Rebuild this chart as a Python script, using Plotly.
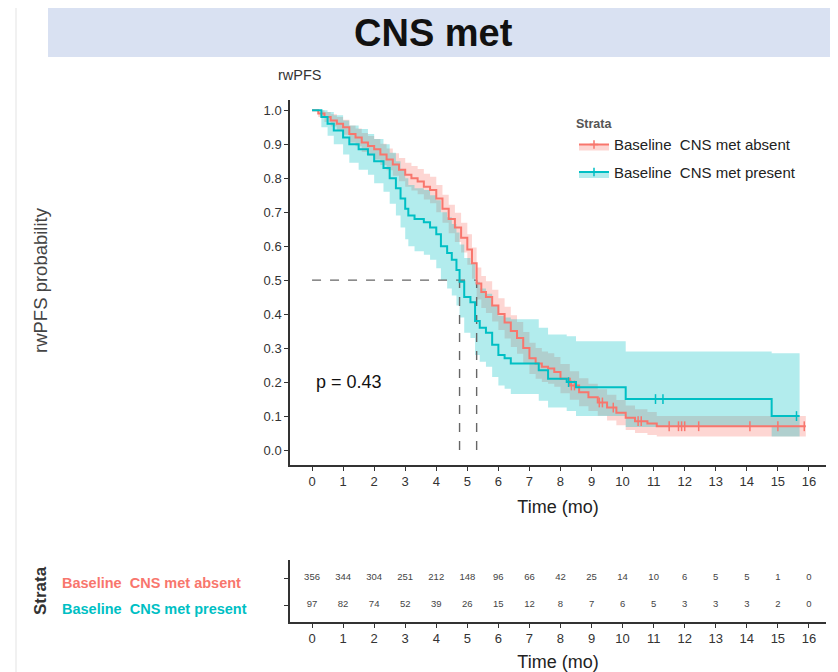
import plotly.graph_objects as go

# ---------------- data ----------------
strata = ["Baseline  CNS met absent", "Baseline  CNS met present"]
colors = ["#F8766D", "#00BFC4"]
bands = ["rgba(248,118,109,0.30)", "rgba(0,191,196,0.30)"]

red_t = [0, 0.2, 0.4, 0.6, 0.8, 1.0, 1.2, 1.4, 1.6, 1.8, 2.0, 2.2, 2.4, 2.6, 2.8, 3.0, 3.2, 3.4, 3.6, 3.8,
         4.0, 4.2, 4.4, 4.6, 4.8, 5.0, 5.15, 5.3, 5.45, 5.6, 5.8, 6.0, 6.2, 6.4, 6.6, 6.8, 7.0, 7.2, 7.4, 7.6,
         7.8, 8.0, 8.3, 8.6, 8.9, 9.2, 9.5, 9.8, 10.1, 10.4, 10.8, 11.1, 15.9]
red_s = [1.0, 0.99, 0.98, 0.97, 0.96, 0.95, 0.93, 0.92, 0.905, 0.895, 0.885, 0.87, 0.855, 0.84, 0.825, 0.81,
         0.80, 0.79, 0.775, 0.765, 0.74, 0.71, 0.68, 0.655, 0.625, 0.59, 0.55, 0.49, 0.465, 0.45, 0.425, 0.40,
         0.375, 0.35, 0.33, 0.30, 0.27, 0.255, 0.245, 0.24, 0.23, 0.21, 0.19, 0.17, 0.155, 0.14, 0.125, 0.11,
         0.095, 0.085, 0.078, 0.07, 0.07]
red_up = [1.0, 1.0, 0.995, 0.988, 0.98, 0.972, 0.955, 0.946, 0.933, 0.924, 0.915, 0.901, 0.887, 0.873, 0.859,
          0.845, 0.836, 0.827, 0.813, 0.804, 0.78, 0.751, 0.722, 0.698, 0.669, 0.635, 0.596, 0.537, 0.512, 0.497,
          0.472, 0.447, 0.422, 0.397, 0.377, 0.347, 0.316, 0.30, 0.29, 0.285, 0.274, 0.253, 0.232, 0.211, 0.195,
          0.179, 0.163, 0.147, 0.131, 0.12, 0.112, 0.10, 0.10]
red_lo = [1.0, 0.98, 0.965, 0.952, 0.94, 0.928, 0.905, 0.894, 0.877, 0.866, 0.855, 0.839, 0.823, 0.807, 0.791,
          0.775, 0.764, 0.753, 0.737, 0.726, 0.70, 0.669, 0.638, 0.612, 0.581, 0.545, 0.504, 0.443, 0.418, 0.403,
          0.378, 0.353, 0.328, 0.303, 0.283, 0.253, 0.224, 0.21, 0.20, 0.195, 0.186, 0.167, 0.148, 0.129, 0.115,
          0.101, 0.087, 0.073, 0.059, 0.05, 0.044, 0.04, 0.04]

blue_t = [0, 0.3, 0.5, 0.7, 1.0, 1.2, 1.5, 1.8, 2.0, 2.3, 2.5, 2.7, 2.85, 3.0, 3.1, 3.3, 3.6, 3.8, 4.0, 4.15,
          4.35, 4.5, 4.65, 4.75, 4.9, 5.1, 5.25, 5.4, 5.6, 5.8, 6.0, 6.2, 6.4, 7.3, 7.6, 8.2, 8.5, 10.1, 14.8, 15.7]
blue_s = [1.0, 0.98, 0.96, 0.94, 0.92, 0.90, 0.885, 0.87, 0.85, 0.83, 0.80, 0.77, 0.74, 0.71, 0.69, 0.68, 0.67,
          0.655, 0.635, 0.60, 0.58, 0.56, 0.53, 0.495, 0.45, 0.435, 0.38, 0.36, 0.345, 0.31, 0.28, 0.27, 0.255,
          0.235, 0.21, 0.20, 0.185, 0.15, 0.10, 0.10]
blue_up = [1.0, 1.0, 0.995, 0.985, 0.97, 0.955, 0.945, 0.93, 0.915, 0.90, 0.875, 0.85, 0.825, 0.80, 0.78, 0.77,
           0.765, 0.75, 0.735, 0.70, 0.685, 0.665, 0.64, 0.605, 0.565, 0.55, 0.495, 0.475, 0.46, 0.425, 0.395,
           0.39, 0.385, 0.36, 0.34, 0.335, 0.32, 0.29, 0.285, 0.285]
blue_lo = [1.0, 0.95, 0.925, 0.90, 0.87, 0.845, 0.825, 0.81, 0.785, 0.76, 0.725, 0.69, 0.655, 0.62, 0.60, 0.585,
           0.575, 0.56, 0.535, 0.50, 0.475, 0.455, 0.425, 0.39, 0.345, 0.33, 0.28, 0.26, 0.245, 0.215, 0.19, 0.18,
           0.165, 0.145, 0.125, 0.115, 0.10, 0.068, 0.04, 0.04]

red_censor = [8.35, 8.45, 9.25, 9.35, 9.7, 10.5, 10.6, 11.5, 11.8, 11.9, 12.0, 12.45, 14.1, 15.0, 15.85]
blue_censor = [8.26, 11.06, 11.3, 15.6]

risk_times = list(range(0, 17))
risk_red = [356, 344, 304, 251, 212, 148, 96, 66, 42, 25, 14, 10, 6, 5, 5, 1, 0]
risk_blue = [97, 82, 74, 52, 39, 26, 15, 12, 8, 7, 6, 5, 3, 3, 3, 2, 0]
p_text = "p = 0.43"

# ---------------- helpers ----------------
OFF = 8                      # page body margin
W, H = 838 - OFF, 672 - OFF  # figure size


def px(x):
    return (x - OFF) / W


def py(y):
    return 1 - (y - OFF) / H


def step_at(ts, ss, t):
    v = ss[0]
    for ti, si in zip(ts, ss):
        if ti <= t:
            v = si
    return v


def median(ts, ss):
    for ti, si in zip(ts, ss):
        if si <= 0.5:
            return ti
    return None


groups = [
    (red_t, red_s, red_up, red_lo, red_censor),
    (blue_t, blue_s, blue_up, blue_lo, blue_censor),
]

fig = go.Figure()

# confidence bands
for (t, s, up, lo, cen), c, b in zip(groups, colors, bands):
    fig.add_trace(go.Scatter(x=t, y=up, mode="lines", line=dict(width=0, shape="hv"),
                             showlegend=False, hoverinfo="skip", xaxis="x", yaxis="y"))
    fig.add_trace(go.Scatter(x=t, y=lo, mode="lines", line=dict(width=0, shape="hv"),
                             fill="tonexty", fillcolor=b, showlegend=False, hoverinfo="skip",
                             xaxis="x", yaxis="y"))

# median lines
meds = [median(g[0], g[1]) for g in groups]
fig.add_trace(go.Scatter(x=[0, max(meds)], y=[0.5, 0.5], mode="lines",
                         line=dict(color="#666666", width=1.4, dash="dash"), showlegend=False,
                         hoverinfo="skip"))
for m in meds:
    fig.add_trace(go.Scatter(x=[m, m], y=[0, 0.5], mode="lines",
                             line=dict(color="#666666", width=1.4, dash="dash"), showlegend=False,
                             hoverinfo="skip"))

# survival curves + censor marks
for (t, s, up, lo, cen), c, name in zip(groups, colors, strata):
    fig.add_trace(go.Scatter(x=t, y=s, mode="lines", line=dict(color=c, width=2, shape="hv"),
                             showlegend=False, name=name))
    fig.add_trace(go.Scatter(x=cen, y=[step_at(t, s, v) for v in cen], mode="markers",
                             marker=dict(symbol="line-ns", size=7, line=dict(color=c, width=1.5)),
                             showlegend=False, hoverinfo="skip"))

# legend entries
for i, (c, b, name) in enumerate(zip(colors, bands, strata)):
    fig.add_trace(go.Scatter(x=[None, None], y=[None, None], mode="lines+markers", name=name,
                             legendgroup=f"g{i}", fill="toself", fillcolor=b,
                             line=dict(color=c, width=2),
                             marker=dict(symbol="cross-thin", size=6, line=dict(color=c, width=1.5))))

# risk table
for vals, c, yv in zip([risk_red, risk_blue], colors, [2, 1]):
    fig.add_trace(go.Scatter(x=risk_times, y=[yv] * len(risk_times), mode="text",
                             text=[str(v) for v in vals],
                             textfont=dict(size=9.5, color="#444444", family="Liberation Sans, Arial"),
                             showlegend=False, xaxis="x2", yaxis="y2", hoverinfo="skip"))

axis_common = dict(showline=True, linecolor="#333333", linewidth=1.5, ticks="outside", ticklen=4,
                   tickcolor="#333333", tickwidth=1.2, showgrid=False, zeroline=False,
                   tickfont=dict(size=13, color="#333333"))

ann_common = dict(xref="paper", yref="paper", showarrow=False, yanchor="middle")

fig.update_layout(
    width=W, height=H, margin=dict(l=0, r=0, t=0, b=0),
    paper_bgcolor="white", plot_bgcolor="white",
    font=dict(family="Liberation Sans, Arial, sans-serif", color="#222222"),
    xaxis=dict(domain=[px(290), px(826)], range=[-0.71, 16.55], tickvals=risk_times, anchor="y",
               title=dict(text="Time (mo)", font=dict(size=18, color="#222222"), standoff=12),
               **axis_common),
    yaxis=dict(domain=[py(465), py(100)], range=[-0.044, 1.03], tickvals=[i / 10 for i in range(11)],
               tickformat=".1f", anchor="x", **axis_common),
    xaxis2=dict(domain=[px(290), px(826)], range=[-0.71, 16.55], tickvals=risk_times, anchor="y2",
                title=dict(text="Time (mo)", font=dict(size=18, color="#222222"), standoff=10),
                **axis_common),
    yaxis2=dict(domain=[py(622), py(560)], range=[0.37, 2.667], tickvals=[1, 2], ticktext=["", ""],
                anchor="x2", **axis_common),
    legend=dict(x=px(574), y=py(112), xanchor="left", yanchor="top", bgcolor="rgba(0,0,0,0)",
                traceorder="grouped", tracegroupgap=5,
                title=dict(text="<b>Strata</b>", font=dict(size=12.5, color="#555555")),
                font=dict(size=15, color="#222222"), itemwidth=30),
    shapes=[
        dict(type="rect", xref="paper", yref="paper", x0=px(48), x1=1, y0=py(57), y1=py(6),
             fillcolor="#D9E1F2", line=dict(width=0), layer="below"),
        dict(type="line", xref="paper", yref="paper", x0=px(16), x1=px(16), y0=0, y1=1,
             line=dict(color="#E3E3E3", width=1)),
    ],
    annotations=[
        dict(text="<b>CNS met</b>", x=px(433), y=py(33), xanchor="center",
             font=dict(size=38, color="#111111", family="Liberation Sans Narrow, Liberation Sans, Arial"),
             **ann_common),
        dict(text="rwPFS", x=px(300), y=py(75), xanchor="center",
             font=dict(size=14.5, color="#333333"), **ann_common),
        dict(text="rwPFS probability", x=px(40), y=py(280), xanchor="center", textangle=-90,
             font=dict(size=18.5, color="#444444"), **ann_common),
        dict(text="<b>Strata</b>", x=px(40), y=py(591), xanchor="center", textangle=-90,
             font=dict(size=17, color="#333333"), **ann_common),
        dict(text=p_text, xref="x", yref="y", x=0.05, y=0.2, xanchor="left", yanchor="middle",
             showarrow=False, font=dict(size=18, color="#111111")),
        dict(text=f"<b>{strata[0]}</b>", x=px(60), y=py(583), xanchor="left",
             font=dict(size=14.5, color=colors[0]), **ann_common),
        dict(text=f"<b>{strata[1]}</b>", x=px(60), y=py(609), xanchor="left",
             font=dict(size=14.5, color=colors[1]), **ann_common),
    ],
)

fig.write_html("out.html")
